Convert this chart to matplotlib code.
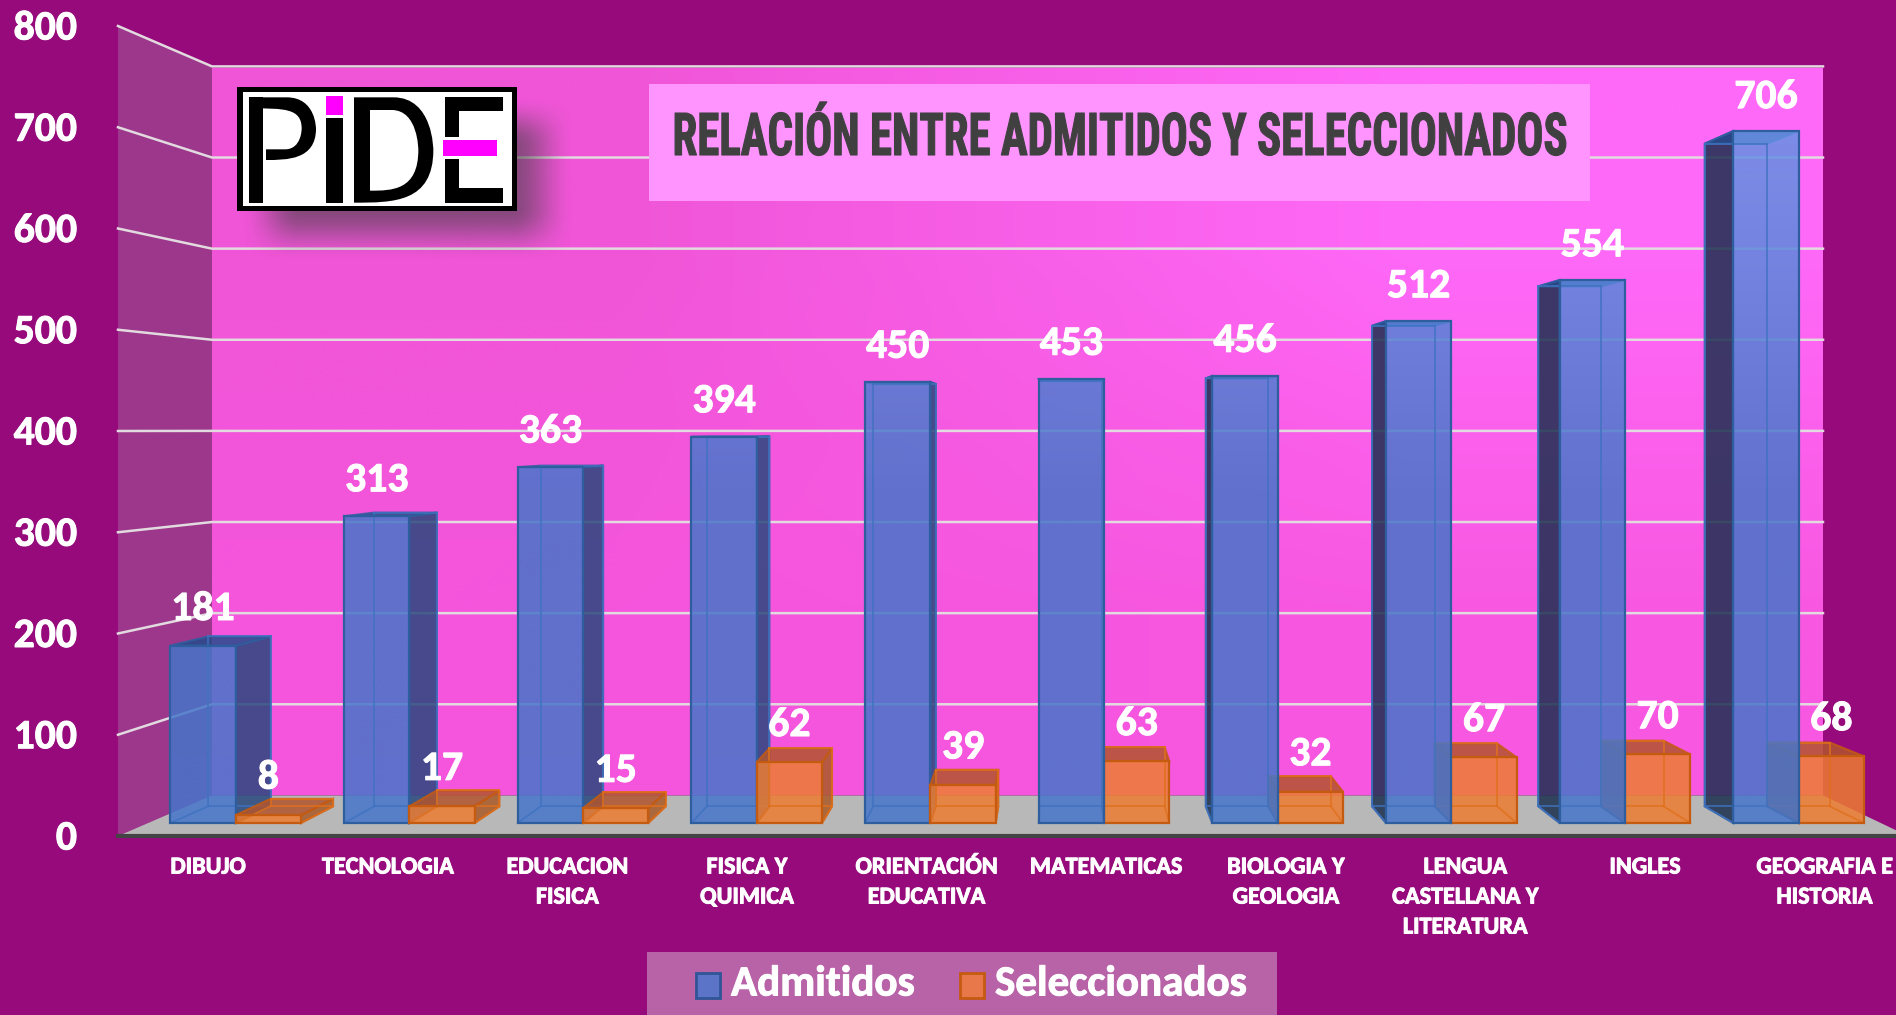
import matplotlib
matplotlib.use("Agg")
import matplotlib.pyplot as plt
import matplotlib.patheffects as pe
import numpy as np
from matplotlib import font_manager as fm
from matplotlib.patches import Polygon, Rectangle, PathPatch
from matplotlib.path import Path
from matplotlib.transforms import Affine2D

categorias = ["DIBUJO", "TECNOLOGIA", "EDUCACION\nFISICA", "FISICA Y\nQUIMICA",
              "ORIENTACIÓN\nEDUCATIVA", "MATEMATICAS", "BIOLOGIA Y\nGEOLOGIA",
              "LENGUA\nCASTELLANA Y\nLITERATURA", "INGLES", "GEOGRAFIA E\nHISTORIA"]
admitidos = [181, 313, 363, 394, 450, 453, 456, 512, 554, 706]
seleccionados = [8, 17, 15, 62, 39, 63, 32, 67, 70, 68]
ticks = [0, 100, 200, 300, 400, 500, 600, 700, 800]
titulo = "RELACIÓN ENTRE ADMITIDOS Y SELECCIONADOS"

FONDO = "#960A7C"
AZUL = "#2F5E9E"
NARANJA = "#C55A11"
VX, VY = 1058, 430       # punto de fuga de la perspectiva
X0, Y0 = 118, 836        # esquina frontal izquierda del suelo
ESCALA = 1.0125          # px por unidad en el plano frontal
CAT = 179.4
BARRA = 67.5
S_PARED = 0.9
S_FRENTE = 0.968
S_FONDO = 0.927

# Carlito tiene las metricas de Calibri; si no esta, Lato con cuerpo menor
try:
    fm.findfont("Carlito", fallback_to_default=False)
    LETRA, K = "Carlito", 1.0
except ValueError:
    LETRA, K = "Lato", 0.89
GORDO = [pe.withStroke(linewidth=0.7, foreground="white")]


class Estrecho(pe.AbstractPathEffect):
    # aprieta el texto en x alrededor de cx y lo engorda un poco
    def __init__(self, cx, sx, lw):
        super().__init__()
        self.cx, self.sx, self.lw = cx, sx, lw

    def draw_path(self, renderer, gc, tpath, affine, rgbFace=None):
        nuevo = affine + Affine2D().translate(-self.cx, 0).scale(self.sx, 1).translate(self.cx, 0)
        gc0 = renderer.new_gc()
        gc0.copy_properties(gc)
        gc0.set_linewidth(self.lw)
        gc0.set_foreground(rgbFace)
        renderer.draw_path(gc0, tpath, nuevo, rgbFace)
        gc0.restore()


def proy(x, v, s):
    # pasa (x del plano frontal, valor, profundidad) a pixeles
    y = Y0 - v * ESCALA
    return VX + s * (x - VX), VY + s * (y - VY)


def degradado(ax, cara, y_colores, alpha=0.85):
    # relleno con degradado vertical recortado a la cara
    ys = np.linspace(0, 1015, 256)
    img = np.zeros((256, 1, 4))
    for c in range(3):
        img[:, 0, c] = np.interp(ys, [p[0] for p in y_colores], [p[1][c] / 255 for p in y_colores])
    img[:, 0, 3] = alpha
    im = ax.imshow(img, extent=(0, 1896, 1015, 0), aspect="auto", interpolation="bilinear", zorder=3)
    im.set_clip_path(Polygon(cara, closed=True, transform=ax.transData))


def barra(ax, x, v, tipo):
    p = []
    for s in (S_FRENTE, S_FONDO):
        p.append([proy(x, 0, s), proy(x + BARRA, 0, s), proy(x + BARRA, v, s), proy(x, v, s)])
    fr, fo = p
    if tipo == "azul":
        borde, interior = AZUL, "#3F72C0"
        lado_der, lado_izq, tapa = (41, 72, 126), (27, 47, 79), (38, 75, 140)
    else:
        borde, interior = NARANJA, "#E0701C"
        lado_der, lado_izq, tapa = (170, 90, 40), (170, 90, 40), (178, 85, 45)
    # cara lateral visible segun el lado del punto de fuga
    if x + BARRA < VX:
        lado = [fr[1], fo[1], fo[2], fr[2]]
        col = lado_der
    elif x > VX:
        lado = [fr[0], fo[0], fo[3], fr[3]]
        col = lado_izq
    else:
        lado = None
    if lado is not None:
        ax.add_patch(Polygon(lado, closed=True, fc=np.array(col) / 255, ec=borde, lw=1.5, alpha=0.85, zorder=3))
    ax.add_patch(Polygon([fr[3], fr[2], fo[2], fo[3]], closed=True, fc=np.array(tapa) / 255, ec=borde, lw=1.5,
                         alpha=0.85, zorder=3))
    if tipo == "azul":
        degradado(ax, fr, [(130, (102, 147, 229)), (500, (70, 117, 201)), (1015, (70, 118, 203))])
    else:
        ax.add_patch(Polygon(fr, closed=True, fc="#ED7D31", ec="none", alpha=0.85, zorder=3))
    # aristas interiores
    for a, b in [(fo[0], fo[1]), (fo[1], fo[2]), (fo[0], fo[3]), (fo[2], fo[3]), (fr[0], fo[0]), (fr[1], fo[1])]:
        ax.plot([a[0], b[0]], [a[1], b[1]], color=interior, lw=1.3, alpha=0.8, zorder=3)
    ax.add_patch(Polygon(fr, closed=True, fc="none", ec=borde, lw=1.6, zorder=3))


fig = plt.figure(figsize=(18.96, 10.15), dpi=100, facecolor=FONDO)
ax = fig.add_axes([0, 0, 1, 1])
ax.set_facecolor(FONDO)

# pared del fondo con degradado
esq = np.array([[[240, 85, 215], [255, 105, 248]], [[245, 85, 220], [248, 88, 225]]]) / 255
pared = ax.imshow(esq, extent=(212, 1823, 795, 68), aspect="auto", interpolation="bilinear", zorder=1)

# pared lateral y suelo
ax.add_patch(Polygon([proy(X0, 800, 1), proy(X0, 800, S_PARED), proy(X0, 0, S_PARED), proy(X0, 0, 1)],
                     closed=True, fc="#9C378C", ec="none", zorder=1))
xd = X0 + 1790
ax.add_patch(Polygon([proy(X0, 0, 1), proy(X0, 0, S_PARED), proy(xd, 0, S_PARED), proy(xd, 0, 1)],
                     closed=True, fc="#B8B8B8", ec="none", zorder=1))
ax.plot([X0, 1896], [Y0, Y0], color="#444444", lw=3, zorder=2)

# rejilla y eje y
for t in ticks:
    a = proy(X0, t, 1)
    b = proy(X0, t, S_PARED)
    c = proy(xd, t, S_PARED)
    if t > 0:
        ax.plot([a[0], b[0], c[0]], [a[1], b[1], c[1]], color="#E2DADF", lw=1.8, zorder=2)
    ax.text(77, a[1] + 2, str(t), color="white", fontsize=30 * K, fontweight="bold", ha="right", va="center",
            family=LETRA, zorder=6, path_effects=GORDO)

# barras, de la mas lejana a la mas cercana al punto de fuga
lista = []
for i in range(len(categorias)):
    xi = X0 + 23 + i * CAT
    lista.append((xi, admitidos[i], "azul"))
    lista.append((xi + BARRA, seleccionados[i], "naranja"))
lista.sort(key=lambda b: -abs(b[0] + BARRA / 2 - VX))
for xb, val, tipo in lista:
    barra(ax, xb, val, tipo)

# etiquetas de datos
for xb, val, tipo in lista:
    cx = proy(xb + BARRA / 2, val, S_FRENTE)[0]
    yl = proy(xb, val, 0.963)[1] - 36
    ax.text(cx, yl, str(val), color="white", fontsize=30 * K, fontweight="bold", ha="center", va="center",
            family=LETRA, zorder=7, path_effects=GORDO)

# categorias
for i, cat in enumerate(categorias):
    for j, linea in enumerate(cat.split("\n")):
        ax.text(208 + 179.6 * i, 867 + 30 * j, linea, color="white", fontsize=17.4 * K, fontweight="bold",
                ha="center", va="center", family=LETRA, zorder=6, path_effects=GORDO)

# titulo
ax.add_patch(Rectangle((649, 84), 941, 117, fc="#FF94FF", ec="none", zorder=4))
tt = ax.text(1120, 155, titulo, color="#404040", fontsize=42.5, fontweight="bold", ha="center", va="baseline",
             family=["Roboto Condensed", "Liberation Sans"], zorder=6)
ancho = tt.get_window_extent(fig.canvas.get_renderer()).width
tt.set_path_effects([Estrecho(1120, 895 / ancho, 0.8)])

# sombra del logo
xs = np.arange(200, 640)
ys = np.arange(60, 300)
rx = np.clip((xs - 240) / 60, 0, 1) * np.clip((575 - xs) / 65, 0, 1)
ry = np.clip((ys - 95) / 50, 0, 1) * np.clip((262 - ys) / 55, 0, 1)
som = np.zeros((len(ys), len(xs), 4))
som[..., :3] = 0.25
som[..., 3] = 0.6 * np.outer(ry * ry * (3 - 2 * ry), rx * rx * (3 - 2 * rx))
ax.imshow(som, extent=(200, 640, 300, 60), aspect="auto", interpolation="bilinear", zorder=4)


# logo PiDE, coordenadas medidas sobre un recorte 3x
def lx(x):
    return 230 + x / 3


def ly(y):
    return 80 + y / 3


def caja(x1, y1, x2, y2, color):
    ax.add_patch(Rectangle((lx(x1), ly(y1)), (x2 - x1) / 3, (y2 - y1) / 3, fc=color, ec="none", zorder=5))


def curva(puntos, color):
    vs = [(lx(a), ly(b)) for a, b, _ in puntos]
    cs = [c for _, _, c in puntos]
    ax.add_patch(PathPatch(Path(vs, cs), fc=color, ec="none", zorder=5))


M, L, C = Path.MOVETO, Path.LINETO, Path.CURVE4
caja(22, 22, 860, 393, "black")
caja(38, 35, 845, 378, "white")
caja(58, 52, 100, 368, "black")
curva([(58, 52, M), (170, 52, L), (258, 52, C), (258, 146, C), (258, 146, L), (258, 240, C), (170, 240, C),
       (108, 240, L), (108, 208, L), (165, 208, L), (215, 208, C), (215, 146, C), (215, 146, L), (215, 85, C),
       (165, 85, C), (58, 85, L), (58, 52, L)], "black")
caja(288, 48, 338, 105, "#FF00FF")
caja(288, 115, 338, 368, "black")
curva([(372, 52, M), (490, 52, L), (610, 52, C), (610, 210, C), (610, 210, L), (610, 368, C), (490, 368, C),
       (372, 368, L), (372, 52, L)], "black")
curva([(420, 90, M), (485, 90, L), (565, 90, C), (565, 210, C), (565, 210, L), (565, 332, C), (485, 332, C),
       (420, 332, L), (420, 90, L)], "white")
caja(645, 52, 688, 368, "black")
caja(645, 52, 820, 92, "black")
caja(645, 325, 820, 368, "black")
caja(640, 170, 800, 236, "white")
caja(640, 180, 800, 228, "#FF00FF")

# leyenda
ax.add_patch(Rectangle((647, 952), 630, 63, fc="#B862A8", ec="none", zorder=4))
ax.add_patch(Rectangle((696, 973), 24, 25, fc="#5B74C8", ec="#2F5597", lw=2, zorder=5))
ax.add_patch(Rectangle((960, 973), 24, 25, fc="#E8784A", ec="#C55A11", lw=2, zorder=5))
ax.text(731, 984, "Admitidos", color="white", fontsize=31 * K, fontweight="bold", ha="left", va="center",
        family=LETRA, zorder=6, path_effects=GORDO)
ax.text(995, 984, "Seleccionados", color="white", fontsize=31 * K, fontweight="bold", ha="left", va="center",
        family=LETRA, zorder=6, path_effects=GORDO)

ax.set_xlim(0, 1896)
ax.set_ylim(1015, 0)
ax.axis("off")
fig.savefig("out.png", dpi=100, facecolor=FONDO)
